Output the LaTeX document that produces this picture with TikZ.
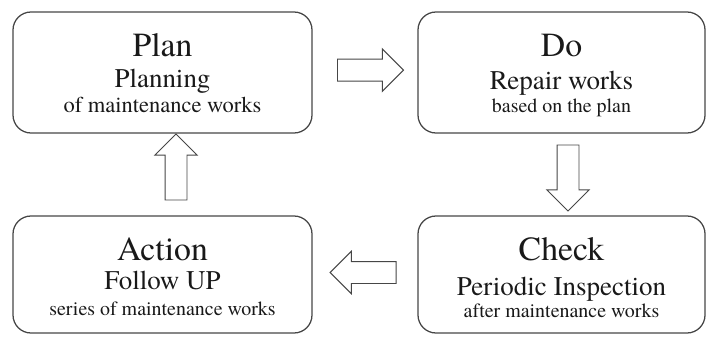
\documentclass[tikz,border=0pt]{standalone}
\usepackage{fontspec}
\setmainfont{texgyretermes}[Extension=.otf, UprightFont=*-regular, BoldFont=*-bold]
\usetikzlibrary{shapes.arrows, calc, positioning}
\definecolor{edgecol}{RGB}{70,70,70}
\definecolor{textcol}{RGB}{25,25,25}

\begin{document}
\begin{tikzpicture}[
    stagebox/.style={draw=edgecol, line width=0.9pt, rounded corners=0.45cm, inner sep=0pt},
    titletext/.style={text=textcol, font=\fontsize{24}{24}\selectfont, anchor=base, inner sep=0pt},
    subtext/.style={text=textcol, font=\fontsize{19.2}{19.2}\selectfont, anchor=base, inner sep=0pt},
    notetext/.style={text=textcol, font=\fontsize{14.2}{14.2}\selectfont, anchor=base, inner sep=0pt},
    flowarr/.style={single arrow, draw=edgecol, fill=white, line width=0.7pt,
        inner sep=0.2625cm, single arrow head extend=0.256cm,
        single arrow tip angle=90, minimum height=1.65cm},
]

\path[use as bounding box] (0,0) rectangle (17.65,8.4);

% ════════════════════════════════════════════════════════
% 1. THE FOUR STAGES
% ════════════════════════════════════════════════════════
\node[stagebox, minimum width=7.475cm, minimum height=3.025cm] (plan)   at (4.0625, 6.5875) {};
\node[stagebox, minimum width=7.175cm, minimum height=3.025cm] (do)     at (14.0375, 6.5875) {};
\node[stagebox, minimum width=7.475cm, minimum height=2.925cm] (action) at (4.0625, 1.5375) {};
\node[stagebox, minimum width=7.175cm, minimum height=2.925cm] (check)  at (14.0375, 1.5375) {};

% Plan
\node[titletext] (plan-title) at ($(plan.north)+(0,-1.125)$) {Plan};
\node[subtext]   (plan-sub)   at ($(plan.north)+(0,-1.90)$)  {Planning};
\node[notetext, font=\fontsize{16}{16}\selectfont] (plan-note) at ($(plan.north)+(0,-2.525)$) {of maintenance works};

% Do
\node[titletext] (do-title) at ($(do.north)+(0,-1.125)$) {Do};
\node[subtext]   (do-sub)   at ($(do.north)+(0,-1.95)$)  {Repair works};
\node[notetext]  (do-note)  at ($(do.north)+(0,-2.525)$) {based on the plan};

% Check
\node[titletext] (check-title) at ($(check.north)+(0,-1.125)$) {Check};
\node[subtext]   (check-sub)   at ($(check.north)+(0,-2.0)$)   {Periodic Inspection};
\node[notetext]  (check-note)  at ($(check.north)+(0,-2.55)$)  {after maintenance works};

% Action
\node[titletext] (action-title) at ($(action.north)+(0,-1.125)$) {Action};
\node[subtext]   (action-sub)   at ($(action.north)+(0,-1.85)$)  {Follow UP};
\node[notetext]  (action-note)  at ($(action.north)+(0,-2.50)$)  {series of maintenance works};

% ════════════════════════════════════════════════════════
% 2. BLOCK ARROWS BETWEEN STAGES
% ════════════════════════════════════════════════════════
\node[flowarr] (plan-do) at ($(plan.east)!0.5!(do.west)+(0,0.06)$) {};
\node[flowarr, shape border rotate=270] (do-check) at ($(do.south)!0.5!(check.north)+(0.1625,0.05)$) {};
\node[flowarr, shape border rotate=180] (check-action) at ($(action.east)!0.5!(check.west)+(0.09,0.05)$) {};
\node[flowarr, shape border rotate=90] (action-plan) at ($(action.north)!0.5!(plan.south)+(0.3375,0.05)$) {};

\end{tikzpicture}
\end{document}
